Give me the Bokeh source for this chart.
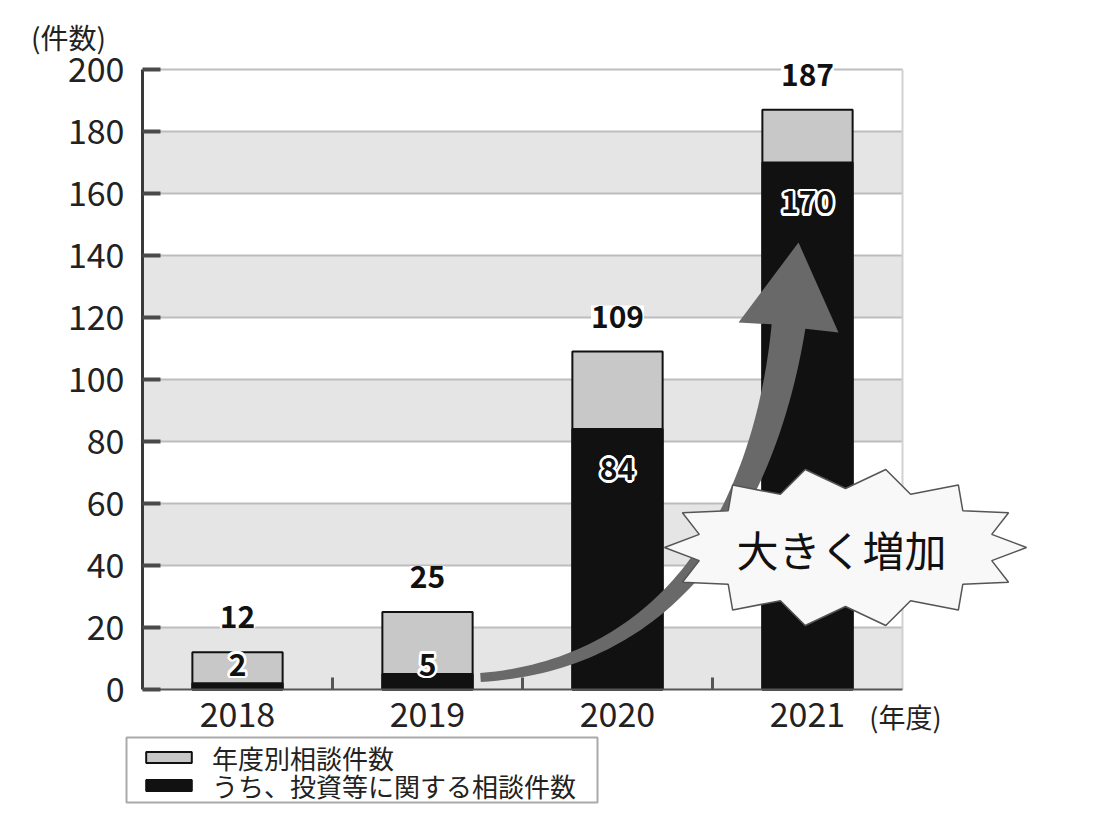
import numpy as np
from bokeh.plotting import figure
from bokeh.models import (Range1d, FixedTicker, ColumnDataSource, LabelSet, Label,
                          Legend, LegendItem)
from bokeh.core.properties import value
from bokeh.embed import file_html
from bokeh.resources import INLINE

# ---------------- data ----------------
years = ["2018", "2019", "2020", "2021"]
total = [12, 25, 109, 187]          # 年度別相談件数
invest = [2, 5, 84, 170]            # うち、投資等に関する相談件数
y_ticks = [0, 20, 40, 60, 80, 100, 120, 140, 160, 180, 200]
legend_labels = ["年度別相談件数", "うち、投資等に関する相談件数"]
y_title = "(件数)"
x_title = "(年度)"
callout = "大きく増加"

FONT = "Noto Sans CJK JP"
W, H = 1106, 825
PX_X = 190.0      # pixels per category
PX_Y = 3.1        # pixels per count
X0, Y0 = 142, 689  # page pixel of the origin (0, 0)

p = figure(width=W, height=H, output_backend="svg", toolbar_location=None,
           x_range=Range1d(-X0 / PX_X, (W - X0) / PX_X),
           y_range=Range1d((Y0 - H) / PX_Y, Y0 / PX_Y),
           min_border=0, min_border_left=0, min_border_right=0,
           min_border_top=0, min_border_bottom=0)
p.outline_line_color = None
p.xgrid.grid_line_color = None
p.ygrid.grid_line_color = None
p.background_fill_color = "white"
p.border_fill_color = "white"

n = len(years)
xs = [i + 0.5 for i in range(n)]

# helpers to place decorations given page pixels
def dx(px):
    return (np.asarray(px, dtype=float) - X0) / PX_X

def dy(py):
    return (Y0 - np.asarray(py, dtype=float)) / PX_Y

# background bands & grid
band_b = y_ticks[0:-1:2]
band_t = y_ticks[1::2]
p.quad(left=0, right=n, bottom=band_b, top=band_t, fill_color="#e5e5e5", line_color=None)
p.segment(x0=0, x1=n, y0=y_ticks[1:], y1=y_ticks[1:], line_color="#bdbdbd", line_width=2)
p.segment(x0=n, x1=n, y0=0, y1=y_ticks[-1], line_color="#d2d2d2", line_width=2)

# bars
src = ColumnDataSource(dict(
    x=xs, total=total, invest=invest,
    total_s=[str(v) for v in total], invest_s=[str(v) for v in invest],
    inner_y=[max(v - 12.9, 8) for v in invest]))
r_tot = p.vbar(x="x", top="total", width=0.475, source=src,
               fill_color="#c8c8c8", line_color="#111111", line_width=2)
r_inv = p.vbar(x="x", top="invest", width=0.475, source=src,
               fill_color="#111111", line_color="#111111", line_width=2)

# inner labels (black with white halo)
for a in np.linspace(0, 2 * np.pi, 12, endpoint=False):
    p.text(x="x", y="inner_y", text="invest_s", source=src,
           x_offset=float(2.6 * np.cos(a)), y_offset=float(2.6 * np.sin(a)),
           text_font=value(FONT), text_font_size="30px", text_font_style="bold",
           text_color="white", text_align="center", text_baseline="middle")
p.text(x="x", y="inner_y", text="invest_s", source=src,
       text_font=value(FONT), text_font_size="30px", text_font_style="bold",
       text_color="#111111", text_align="center", text_baseline="middle")

# arrow (decoration)
P0 = np.array([480.0, 677.0]); P1 = np.array([690.0, 662.0])
P2 = np.array([768.0, 480.0]); P3 = np.array([788.0, 326.0])
t = np.linspace(0, 1, 80)[:, None]
B = (1 - t) ** 3 * P0 + 3 * (1 - t) ** 2 * t * P1 + 3 * (1 - t) * t ** 2 * P2 + t ** 3 * P3
D = 3 * (1 - t) ** 2 * (P1 - P0) + 6 * (1 - t) * t * (P2 - P1) + 3 * t ** 2 * (P3 - P2)
D = D / np.linalg.norm(D, axis=1)[:, None]
N = np.column_stack([D[:, 1], -D[:, 0]])
w = (4.5 + 12.5 * t[:, 0] ** 1.2)[:, None]
sideA = B + N * w
sideB = B - N * w
if sideA[-1, 0] > sideB[-1, 0]:
    sideA, sideB = sideB, sideA
head = np.array([[738.0, 322.0], [798.0, 242.0], [838.0, 332.0]])
poly = np.vstack([sideA, head, sideB[::-1]])
p.patch(x=dx(poly[:, 0]), y=dy(poly[:, 1]), fill_color="#696969", line_color=None)

# burst callout (decoration)
k = np.arange(28)
th = k * np.pi / 14
rx = np.where(k % 2 == 0, 181.0, 150.0)
ry = np.where(k % 2 == 0, 80.0, 59.0)
bx = 845 + rx * np.cos(th)
by = 547 - ry * np.sin(th)
p.patch(x=dx(bx), y=dy(by), fill_color="#f8f8f8", line_color="#555555", line_width=1.5)
p.add_layout(Label(x=float(dx(841)), y=float(dy(548)), text=callout, text_font=FONT,
                   text_font_size="42px", text_color="#111111",
                   text_align="center", text_baseline="middle"))

# total labels
p.add_layout(LabelSet(x="x", y="total", text="total_s", source=src, y_offset=35,
                      text_font=value(FONT), text_font_size="30px", text_font_style="bold",
                      text_color="#111111", text_align="center", text_baseline="middle",
                      background_fill_color="white"))

# axes (fixed at the origin so the whole canvas is the frame)
ya = p.yaxis[0]
ya.fixed_location = 0
ya.ticker = FixedTicker(ticks=y_ticks)
ya.bounds = (y_ticks[0], y_ticks[-1])
ya.major_tick_in = 18
ya.major_tick_out = 0
ya.major_tick_line_width = 4
ya.major_tick_line_color = "#4a4a4a"
ya.minor_tick_line_color = None
ya.axis_line_width = 3
ya.axis_line_color = "#3a3a3a"
ya.major_label_text_font = FONT
ya.major_label_text_font_size = "34px"
ya.major_label_text_color = "#222222"
ya.major_label_standoff = 18

xa = p.xaxis[0]
xa.fixed_location = 0
xa.ticker = FixedTicker(ticks=xs, minor_ticks=list(range(1, n)))
xa.bounds = (0, n)
xa.major_label_overrides = {x: y for x, y in zip(xs, years)}
xa.major_tick_line_color = None
xa.major_tick_in = 0
xa.major_tick_out = 0
xa.minor_tick_in = 12
xa.minor_tick_out = 0
xa.minor_tick_line_width = 3
xa.minor_tick_line_color = "#555555"
xa.axis_line_width = 2
xa.axis_line_color = "#555555"
xa.major_label_text_font = FONT
xa.major_label_text_font_size = "34px"
xa.major_label_text_color = "#222222"
xa.major_label_standoff = 12

p.add_layout(Label(x=float(dx(68)), y=float(dy(36)), text=y_title, text_font=FONT,
                   text_font_size="28px", text_color="#222222",
                   text_align="center", text_baseline="middle"))
p.add_layout(Label(x=float(dx(905)), y=float(dy(716)), text=x_title, text_font=FONT,
                   text_font_size="27px", text_color="#222222",
                   text_align="center", text_baseline="middle"))

# legend frame (decoration) + one legend row per series
p.quad(left=float(dx(126)), right=float(dx(597)), bottom=float(dy(802)), top=float(dy(737)),
       fill_color="white", line_color="#aaaaaa", line_width=2)
row_centers = [757, 785]   # page pixel centres of the legend rows
for lab, rend, cy in zip(legend_labels, [r_tot, r_inv], row_centers):
    lg = Legend(items=[LegendItem(label=lab, renderers=[rend])],
                location=(140, H - (cy + 19)), orientation="vertical",
                glyph_width=57, glyph_height=14, label_standoff=15,
                label_height=38, label_text_baseline="middle",
                label_text_font=FONT, label_text_font_size="26px", label_text_color="#222222",
                padding=0, spacing=0, margin=0,
                border_line_color=None, background_fill_alpha=0.0)
    p.add_layout(lg)

open("out.html", "w").write(file_html(p, INLINE))
